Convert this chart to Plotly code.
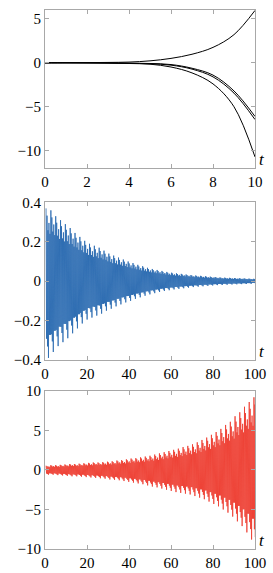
import numpy as np
import plotly.graph_objects as go

# ---------------- data ----------------
# top panel: four trajectories sampled at t = 0..10
t_top = [0, 1, 2, 3, 4, 5, 6, 7, 8, 9, 10]
curve_a = [0, 0.01, 0.02, 0.04, 0.08, 0.22, 0.5, 0.97, 1.75, 3.2, 5.95]
curve_b = [0, 0.0, -0.01, -0.02, -0.05, -0.08, -0.2, -0.62, -1.4, -3.2, -6.1]
curve_c = [0, 0.0, -0.01, -0.03, -0.06, -0.11, -0.27, -0.72, -1.6, -3.45, -6.45]
curve_d = [0, 0.0, -0.01, -0.03, -0.08, -0.16, -0.48, -1.15, -2.4, -5.0, -10.7]

# middle panel: decaying oscillation, spike times and peak values per burst
blue_t = list(np.round(np.arange(0.5, 100, 2.3), 2))
blue_up = [0.37, 0.36, 0.33, 0.31, 0.29, 0.27, 0.245, 0.225, 0.205, 0.19, 0.18,
           0.17, 0.155, 0.14, 0.13, 0.12, 0.11, 0.10, 0.092, 0.083, 0.076, 0.068,
           0.062, 0.057, 0.052, 0.047, 0.043, 0.040, 0.037, 0.034, 0.031, 0.029,
           0.027, 0.025, 0.023, 0.021, 0.019, 0.018, 0.017, 0.016, 0.015, 0.014,
           0.013, 0.012]
blue_lo = [-0.39, -0.36, -0.33, -0.31, -0.29, -0.265, -0.24, -0.215, -0.195, -0.185,
           -0.175, -0.165, -0.15, -0.14, -0.128, -0.118, -0.108, -0.10, -0.09, -0.082,
           -0.074, -0.067, -0.061, -0.055, -0.05, -0.046, -0.042, -0.039, -0.036,
           -0.033, -0.03, -0.028, -0.026, -0.024, -0.022, -0.02, -0.019, -0.018,
           -0.017, -0.016, -0.015, -0.014, -0.013, -0.012]

# bottom panel: growing oscillation
red_t = list(np.round(np.arange(0.5, 100, 2.25), 2))
red_up = [0.55, 0.6, 0.6, 0.65, 0.7, 0.75, 0.75, 0.8, 0.85, 0.9, 0.95, 0.95, 1.0,
          1.05, 1.1, 1.2, 1.25, 1.35, 1.45, 1.5, 1.6, 1.7, 1.8, 1.95, 2.1, 2.25,
          2.4, 2.55, 2.7, 2.9, 3.05, 3.25, 3.5, 3.8, 4.1, 4.45, 4.8, 5.2, 5.7,
          6.1, 6.8, 7.3, 8.0, 8.6, 9.2]
red_lo = [-0.6, -0.6, -0.65, -0.7, -0.75, -0.8, -0.8, -0.85, -0.9, -0.95, -1.0,
          -1.05, -1.1, -1.2, -1.25, -1.3, -1.4, -1.5, -1.6, -1.7, -1.8, -1.95, -2.1,
          -2.2, -2.35, -2.5, -2.65, -2.8, -2.9, -3.0, -3.1, -3.3, -3.5, -3.7, -4.0,
          -4.3, -4.6, -5.0, -5.4, -5.9, -6.5, -7.1, -7.9, -8.8, -10.0]

x_ticks_top = [0, 2, 4, 6, 8, 10]
y_ticks_top = [-10, -5, 0, 5]
x_ticks_osc = [0, 20, 40, 60, 80, 100]
y_ticks_mid = [-0.4, -0.2, 0, 0.2, 0.4]
y_ticks_bot = [-10, -5, 0, 5, 10]

# ---------------- drawing helpers ----------------
# multipliers of the (upper, lower) burst peaks used for the strokes in one burst
STROKE_PATTERN = [1.0, 0.75, 0.9, 0.85, 0.7, 1.0, 0.8, 0.7, 0.65, 0.7]


def burst_line(times, ups, los):
    xs, ys = [], []
    n = len(STROKE_PATTERN)
    for i, (t0, u, l) in enumerate(zip(times, ups, los)):
        t1 = times[i + 1] if i + 1 < len(times) else t0 + (times[1] - times[0])
        for j, m in enumerate(STROKE_PATTERN):
            xs.append(t0 + (t1 - t0) * j / n)
            ys.append(u * m if j % 2 == 0 else l * m)
    return xs, ys


FONT = "Liberation Serif, DejaVu Serif, serif"
AX = "#a8a8a8"
BLUE = "#2768b0"
RED = "#ee3b2e"

fig = go.Figure()
for c in (curve_a, curve_b, curve_c, curve_d):
    fig.add_trace(go.Scatter(x=t_top, y=c, mode="lines", line=dict(color="black", width=1, shape="spline"),
                             xaxis="x", yaxis="y", showlegend=False, hoverinfo="skip"))

bx, by = burst_line(blue_t, blue_up, blue_lo)
fig.add_trace(go.Scatter(x=bx, y=by, mode="lines", line=dict(color=BLUE, width=0.8),
                         xaxis="x2", yaxis="y2", showlegend=False, hoverinfo="skip"))
rx, ry = burst_line(red_t, red_up, red_lo)
fig.add_trace(go.Scatter(x=rx, y=ry, mode="lines", line=dict(color=RED, width=0.8),
                         xaxis="x3", yaxis="y3", showlegend=False, hoverinfo="skip"))

common = dict(showline=True, linecolor=AX, linewidth=1, mirror="ticks", ticks="inside",
              ticklen=4, tickcolor=AX, tickwidth=1, showgrid=False, zeroline=False,
              tickfont=dict(family=FONT, size=15, color="black"), fixedrange=True)

dom_top = [0.7062, 1.0]
dom_mid = [0.3509, 0.6429]
dom_bot = [0.0, 0.2932]

fig.update_layout(
    width=273, height=573,
    margin=dict(l=45, r=18, t=2, b=23),
    paper_bgcolor="white", plot_bgcolor="white",
    xaxis=dict(common, range=[0, 10], tickvals=x_ticks_top, anchor="y", domain=[0, 1]),
    yaxis=dict(common, range=[-12, 6], tickvals=y_ticks_top, anchor="x", domain=dom_top),
    xaxis2=dict(common, range=[0, 100], tickvals=x_ticks_osc, anchor="y2", domain=[0, 1]),
    yaxis2=dict(common, range=[-0.4, 0.4], tickvals=y_ticks_mid, anchor="x2", domain=dom_mid),
    xaxis3=dict(common, range=[0, 100], tickvals=x_ticks_osc, anchor="y3", domain=[0, 1]),
    yaxis3=dict(common, range=[-10, 10], tickvals=y_ticks_bot, anchor="x3", domain=dom_bot),
)

for xr, yr in (("x", "y"), ("x2", "y2"), ("x3", "y3")):
    fig.add_annotation(text="<i>t</i>", xref=f"{xr} domain", yref=f"{yr} domain",
                       x=1, y=0, xanchor="left", yanchor="bottom", xshift=2, yshift=-3,
                       showarrow=False, font=dict(family=FONT, size=17, color="black"))

fig.write_html("out.html", config={"displayModeBar": False},
               post_script="document.body.style.margin='0';document.body.style.padding='0';"
                           "document.documentElement.style.overflow='hidden';")
